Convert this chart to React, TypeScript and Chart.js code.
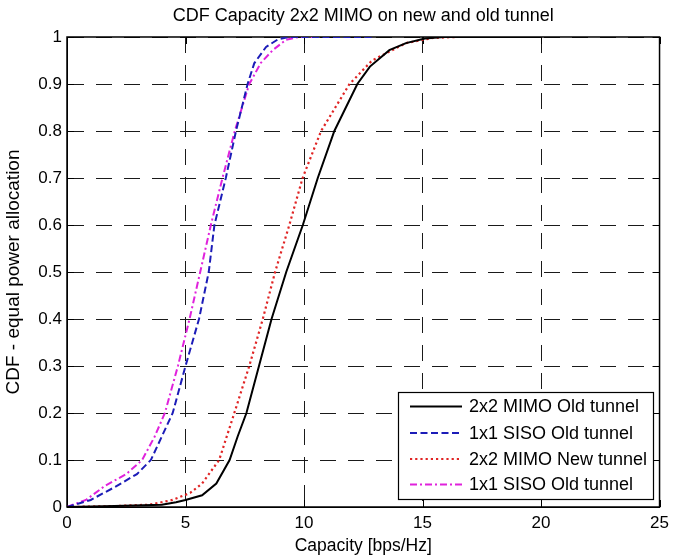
import { useEffect, useRef } from "react";
import { Chart, registerables } from "chart.js";

Chart.register(...registerables);

const titleText = "CDF Capacity 2x2 MIMO on new and old tunnel";
const xTitle = "Capacity [bps/Hz]";
const yTitle = "CDF - equal power allocation";

const xTickValues = [0, 5, 10, 15, 20, 25];
const yTickValues = [0, 0.1, 0.2, 0.3, 0.4, 0.5, 0.6, 0.7, 0.8, 0.9, 1];

const labels = [
  "2x2 MIMO Old tunnel",
  "1x1 SISO Old tunnel",
  "2x2 MIMO New tunnel",
  "1x1 SISO Old tunnel",
];

// 2x2 MIMO Old tunnel (black solid)
const mimoOldX = [0, 2, 4, 4.6, 5.0, 5.7, 6.3, 6.86, 7.2, 7.57, 8.1, 8.63, 9.25, 9.95, 10.58, 11.28, 12.25, 12.78, 13.6, 14.3, 15.1, 15.9, 20];
const mimoOldY = [0, 0.002, 0.005, 0.01, 0.015, 0.025, 0.05, 0.1, 0.15, 0.2, 0.3, 0.4, 0.5, 0.6, 0.7, 0.8, 0.9, 0.937, 0.972, 0.987, 0.997, 1, 1];

// 1x1 SISO Old tunnel (blue dashed)
const sisoOldX = [0, 1, 2.0, 2.95, 3.54, 4.0, 4.46, 5.0, 5.57, 5.98, 6.22, 6.7, 7.13, 7.62, 7.9, 8.4, 8.9, 9.38, 12.9];
const sisoOldY = [0, 0.015, 0.042, 0.07, 0.1, 0.15, 0.2, 0.3, 0.4, 0.5, 0.6, 0.7, 0.8, 0.9, 0.944, 0.979, 0.995, 1, 1];

// 2x2 MIMO New tunnel (red dotted)
const mimoNewX = [0, 2, 3.5, 4.45, 5.2, 5.7, 6.42, 7.06, 7.69, 8.26, 8.78, 9.38, 9.94, 10.72, 11.92, 12.87, 14.3, 15.45, 16.4, 20];
const mimoNewY = [0, 0.002, 0.005, 0.015, 0.03, 0.05, 0.1, 0.2, 0.3, 0.4, 0.5, 0.6, 0.7, 0.8, 0.9, 0.95, 0.987, 0.998, 1, 1];

// 1x1 SISO Old tunnel (magenta dash-dot)
const sisoOld2X = [0, 0.8, 1.6, 2.5, 3.17, 3.7, 4.13, 4.68, 5.17, 5.62, 6.07, 6.56, 7.08, 7.69, 8.18, 8.68, 9.24, 9.78, 10.5];
const sisoOld2Y = [0, 0.015, 0.045, 0.07, 0.1, 0.15, 0.2, 0.3, 0.4, 0.5, 0.6, 0.7, 0.8, 0.9, 0.945, 0.972, 0.994, 1, 1];

const FONT = "'Liberation Sans', Arial, Helvetica, sans-serif";

function pts(xs: number[], ys: number[]) {
  return xs.map((x, i) => ({ x, y: ys[i] }));
}

const boxPlugin = {
  id: "matlabBox",
  beforeDatasetsDraw(chart: any) {
    const { ctx, chartArea } = chart;
    const { left, right, top, bottom } = chartArea;
    const xs = chart.scales.x;
    const ys = chart.scales.y;
    const tl = 7;
    ctx.save();
    ctx.strokeStyle = "#000";
    ctx.lineWidth = 1;
    ctx.setLineDash([]);
    ctx.beginPath();
    for (const v of xTickValues) {
      const px = Math.round(xs.getPixelForValue(v)) + 0.5;
      ctx.moveTo(px, bottom);
      ctx.lineTo(px, bottom - tl);
      ctx.moveTo(px, top);
      ctx.lineTo(px, top + tl);
    }
    for (const v of yTickValues) {
      const py = Math.round(ys.getPixelForValue(v)) + 0.5;
      ctx.moveTo(left, py);
      ctx.lineTo(left + tl, py);
      ctx.moveTo(right, py);
      ctx.lineTo(right - tl, py);
    }
    ctx.stroke();
    ctx.lineWidth = 1.5;
    ctx.strokeRect(left, top, right - left, bottom - top);
    ctx.restore();
  },
};

const titlePlugin = {
  id: "areaTitle",
  afterDraw(chart: any) {
    const { ctx, chartArea } = chart;
    ctx.save();
    ctx.fillStyle = "#000";
    ctx.font = `18px ${FONT}`;
    ctx.textAlign = "center";
    ctx.textBaseline = "middle";
    ctx.fillText(titleText, (chartArea.left + chartArea.right) / 2, 16);
    ctx.restore();
  },
};

const legendPlugin = {
  id: "insideLegend",
  afterDraw(chart: any) {
    const { ctx } = chart;
    const bx = 398, by = 392, bw = 255, bh = 107;
    ctx.save();
    ctx.fillStyle = "#fff";
    ctx.fillRect(bx, by, bw, bh);
    ctx.strokeStyle = "#000";
    ctx.lineWidth = 1.2;
    ctx.setLineDash([]);
    ctx.strokeRect(bx + 0.5, by + 0.5, bw, bh);
    const rows = [406.5, 433, 459, 484.5];
    chart.data.datasets.forEach((ds: any, i: number) => {
      const y = rows[i];
      ctx.strokeStyle = ds.borderColor;
      ctx.lineWidth = ds.borderWidth;
      ctx.setLineDash(ds.borderDash || []);
      ctx.beginPath();
      ctx.moveTo(410, y);
      ctx.lineTo(462, y);
      ctx.stroke();
      ctx.setLineDash([]);
      ctx.fillStyle = "#000";
      ctx.font = `18px ${FONT}`;
      ctx.textBaseline = "middle";
      ctx.textAlign = "left";
      ctx.fillText(ds.label, 469, y + 1);
    });
    ctx.restore();
  },
};

export default function App() {
  const ref = useRef<HTMLCanvasElement | null>(null);
  useEffect(() => {
    document.body.style.margin = "0";
    if (!ref.current) return;
    const chart = new Chart(ref.current, {
      type: "line",
      data: {
        datasets: [
          {
            label: labels[0],
            data: pts(mimoOldX, mimoOldY),
            borderColor: "#000000",
            borderWidth: 2,
            borderDash: [],
          },
          {
            label: labels[1],
            data: pts(sisoOldX, sisoOldY),
            borderColor: "#1c1cb8",
            borderWidth: 2,
            borderDash: [7, 3.5],
          },
          {
            label: labels[2],
            data: pts(mimoNewX, mimoNewY),
            borderColor: "#e02424",
            borderWidth: 2.2,
            borderDash: [2.2, 3],
          },
          {
            label: labels[3],
            data: pts(sisoOld2X, sisoOld2Y),
            borderColor: "#e022dc",
            borderWidth: 2,
            borderDash: [7, 3, 2, 3],
          },
        ] as any,
      },
      plugins: [boxPlugin, titlePlugin, legendPlugin],
      options: {
        animation: false,
        responsive: true,
        maintainAspectRatio: false,
        elements: {
          point: { radius: 0, hoverRadius: 0 },
          line: { tension: 0, fill: false },
        },
        layout: { padding: { left: 0, right: 13, top: 37, bottom: 0 } },
        plugins: {
          legend: { display: false },
          tooltip: { enabled: false },
          title: { display: false },
        },
        scales: {
          x: {
            type: "linear",
            min: 0,
            max: 25,
            afterFit: (s: any) => {
              s.height = 50;
            },
            afterBuildTicks: (s: any) => {
              s.ticks = xTickValues.map((v) => ({ value: v }));
            },
            ticks: {
              color: "#000",
              font: { family: FONT, size: 17 },
              padding: 6,
              maxRotation: 0,
              callback: (v: any) => String(v),
            },
            grid: {
              color: "#1a1a1a",
              lineWidth: 1,
              drawTicks: false,
            },
            border: { display: true, color: "#000", width: 1, dash: [16, 12] },
            title: {
              display: true,
              text: xTitle,
              color: "#000",
              font: { family: FONT, size: 17.5 },
              padding: { top: 0, bottom: 0 },
            },
          },
          y: {
            type: "linear",
            min: 0,
            max: 1,
            afterFit: (s: any) => {
              s.width = 67;
            },
            afterBuildTicks: (s: any) => {
              s.ticks = yTickValues.map((v) => ({ value: v }));
            },
            ticks: {
              color: "#000",
              font: { family: FONT, size: 17 },
              padding: 5,
              callback: (v: any) => String(Math.round(Number(v) * 10) / 10),
            },
            grid: {
              color: "#1a1a1a",
              lineWidth: 1,
              drawTicks: false,
            },
            border: { display: true, color: "#000", width: 1, dash: [16, 12] },
            title: {
              display: true,
              text: yTitle,
              color: "#000",
              font: { family: FONT, size: 19 },
              padding: { top: 2, bottom: 0 },
            },
          },
        },
      } as any,
    });
    return () => chart.destroy();
  }, []);
  return (
    <div style={{ width: 675, height: 557, position: "relative" }}>
      <canvas ref={ref} />
    </div>
  );
}
